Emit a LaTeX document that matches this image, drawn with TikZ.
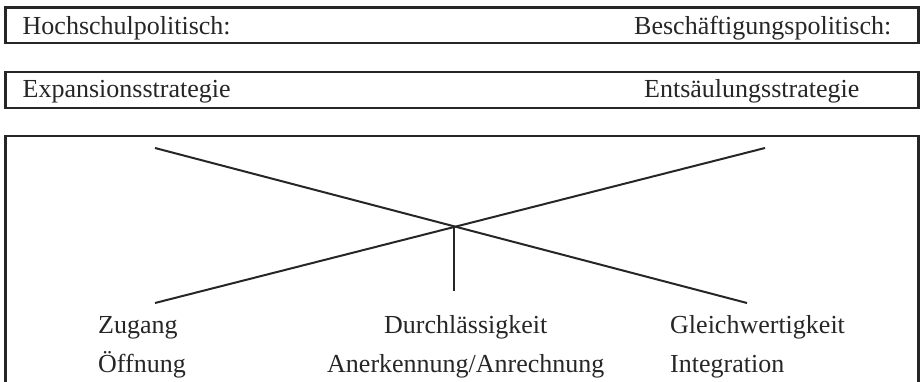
\documentclass[tikz,border=0pt]{standalone}
\usepackage{fontspec}
\setmainfont{Liberation Serif}
\begin{document}
\begin{tikzpicture}[x=1pt,y=-1pt,
  lbl/.style={inner sep=0pt,anchor=base west,font=\fontsize{26}{30}\selectfont,text=black!85},
  frame/.style={draw=black!85,line width=2.6pt},
  cross/.style={draw=black!85,line width=2pt}]
\useasboundingbox (0,0) rectangle (923,382);
% boxes
\draw[frame] (5.5,7.5) rectangle (918.5,43);
\draw[frame] (5.5,72) rectangle (918.5,108);
\draw[frame] (5.5,384) -- (5.5,136) -- (918.5,136) -- (918.5,384);
% texts
\node[lbl] (hp) at (22.5,35) {Hochschulpolitisch:};
\node[lbl] (bp) at (634,35) {Beschäftigungspolitisch:};
\node[lbl] (ex) at (22.5,98) {Expansionsstrategie};
\node[lbl] (en) at (644,98) {Entsäulungsstrategie};
\node[lbl] (zu) at (98,333) {Zugang};
\node[lbl] (oe) at (98,372) {Öffnung};
\node[lbl] (du) at (384,333) {Durchlässigkeit};
\node[lbl] (an) at (327,372) {Anerkennung/Anrechnung};
\node[lbl] (gl) at (670,333) {Gleichwertigkeit};
\node[lbl] (in) at (670,372) {Integration};
% crossing lines
\coordinate (tl) at (155,148);
\coordinate (br) at (747,303);
\coordinate (bl) at (155,303);
\coordinate (tr) at (765,148);
\coordinate (c) at (454.3,227.5);
\coordinate (cb) at (454.3,291);
\draw[cross] (tl) -- (br);
\draw[cross] (bl) -- (tr);
\draw[cross] (c) -- (cb);
\end{tikzpicture}
\end{document}
